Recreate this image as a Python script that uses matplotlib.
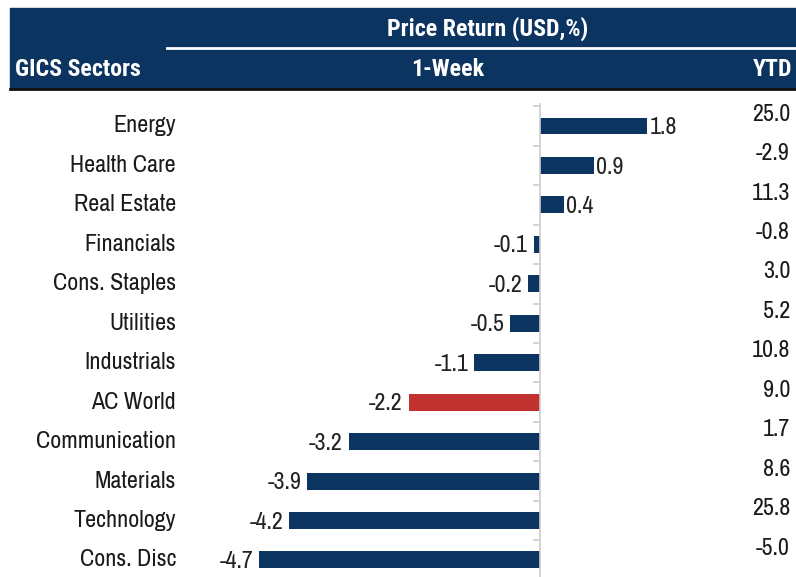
import numpy as np
import matplotlib
matplotlib.use('Agg')
import matplotlib.pyplot as plt
import matplotlib.transforms as mtransforms
from matplotlib.patches import Rectangle

plt.rcParams['font.family'] = ['Archivo Narrow', 'DejaVu Sans']
HDR_FONT = ['Roboto Condensed', 'IBM Plex Sans Condensed', 'Archivo Narrow', 'DejaVu Sans']

# data
sectors = ['Energy', 'Health Care', 'Real Estate', 'Financials', 'Cons. Staples', 'Utilities',
           'Industrials', 'AC World', 'Communication', 'Materials', 'Technology', 'Cons. Disc']
week = [1.8, 0.9, 0.4, -0.1, -0.2, -0.5, -1.1, -2.2, -3.2, -3.9, -4.2, -4.7]
ytd = [25.0, -2.9, 11.3, -0.8, 3.0, 5.2, 10.8, 9.0, 1.7, 8.6, 25.8, -5.0]
highlight = 'AC World'

NAVY = '#0c3461'
RED = '#c0312f'
W, H = 796, 577
FS = 17.3

fig = plt.figure(figsize=(W / 100, H / 100), dpi=100)

# pixel coords -> figure fraction
def fx(px): return px / W
def fy(py): return 1 - py / H

# header band
fig.patches.append(Rectangle((fx(10), fy(88)), fx(W) - fx(10), fy(8) - fy(88),
                             transform=fig.transFigure, color=NAVY, zorder=0))
fig.lines.append(plt.Line2D([fx(10), 1], [fy(88.5), fy(88.5)], transform=fig.transFigure,
                            color='#111111', lw=2))
fig.lines.append(plt.Line2D([fx(167), 1], [fy(48), fy(48)], transform=fig.transFigure,
                            color='white', lw=2))
hdr = dict(color='white', fontsize=17.2, fontweight='bold', va='center', family=HDR_FONT)
fig.text(fx(488), fy(29), 'Price Return (USD,%)', ha='center', **hdr)
fig.text(fx(448), fy(70), '1-Week', ha='center', **hdr)
fig.text(fx(792), fy(70), 'YTD', ha='right', **hdr)
fig.text(fx(15), fy(70), 'GICS Sectors', ha='left', **hdr)

# bars axes: zero at x=540px, ~60px per unit; rows every 39.45px starting 126px
ax = fig.add_axes([0, 0, 1, fy(95)])
px_unit = 59.7
ax.set_xlim(-540 / px_unit, (W - 540) / px_unit)
row = 39.45
ax.set_ylim((577 - 126) / row, (95 - 126) / row)

y = np.arange(len(sectors))
colors = [RED if s == highlight else NAVY for s in sectors]
ax.barh(y, week, height=0.43, color=colors, zorder=2)

for yi, v in zip(y, week):
    if v >= 0:
        ax.text(v + 0.04, yi + 0.04, f'{v:.1f}', ha='left', va='center', fontsize=FS, color='#222222')
    else:
        ax.text(v - 0.1, yi + 0.04, f'{v:.1f}', ha='right', va='center', fontsize=FS, color='#222222')

trans = mtransforms.blended_transform_factory(fig.transFigure, ax.transData)
for yi, s, t in zip(y, sectors, ytd):
    ax.text(fx(176), yi, s, transform=trans, ha='right', va='center', fontsize=FS, color='#1a1a1a')
    ax.text(fx(790), yi - 0.3, f'{t:.1f}', transform=trans, ha='right', va='center',
            fontsize=FS, color='#1a1a1a')

for sp in ['top', 'right', 'bottom']:
    ax.spines[sp].set_visible(False)
ax.spines['left'].set_position(('data', 0))
ax.spines['left'].set_color('#cccccc')
ax.spines['left'].set_linewidth(1.2)
ax.spines['left'].set_bounds(-0.55, (577 - 126) / row)
ax.set_xticks([])
ax.set_yticks(np.arange(len(sectors)) - 0.5)
ax.set_yticklabels([])
ax.tick_params(axis='y', length=5, color='#cccccc', width=1.2)
ax.patch.set_alpha(0)

fig.savefig('out.png', dpi=100)
